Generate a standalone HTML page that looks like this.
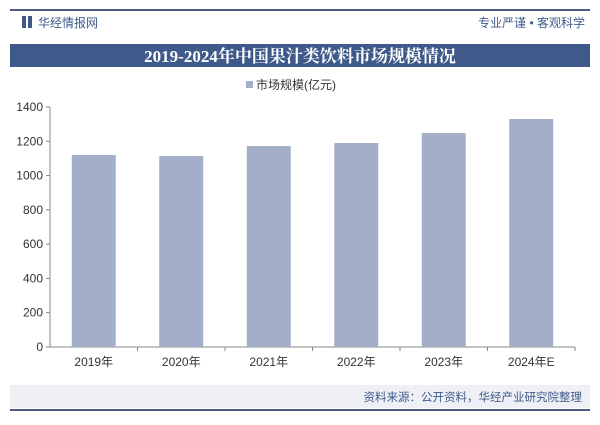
<!DOCTYPE html>
<html><head><meta charset="utf-8"><style>
body{margin:0;width:600px;height:420px;background:#fff;overflow:hidden;font-family:"Liberation Sans","Noto Sans CJK SC",sans-serif;}
</style></head><body>
<svg width="600" height="420" xmlns="http://www.w3.org/2000/svg">
<rect x="10" y="9" width="580" height="2" fill="#4a5b84"/>
<rect x="22" y="16" width="4" height="12" fill="#3f5a8a"/>
<rect x="28" y="16" width="4" height="12" fill="#3f5a8a"/>
<text x="38" y="27" font-size="12" fill="#3f5a8a">华经情报网</text>
<text x="585" y="27" font-size="12" fill="#3f5a8a" text-anchor="end">专业严谨 • 客观科学</text>
<rect x="10" y="44" width="580" height="23" fill="#3f5a8a"/>
<text x="300" y="62" font-size="17" fill="#fff" font-weight="bold" text-anchor="middle" font-family="Liberation Serif,Noto Serif CJK SC,serif">2019-2024年中国果汁类饮料市场规模情况</text>
<rect x="246" y="81" width="7" height="7" fill="#a3afc8"/>
<text x="256" y="89" font-size="12" fill="#333">市场规模(亿元)</text>
<g id="plot"></g>
<rect x="10" y="385" width="580" height="23" fill="#eef0f5"/>
<text x="582" y="401" font-size="11.5" fill="#3f5a8a" text-anchor="end">资料来源：公开资料，华经产业研究院整理</text>
<rect x="10" y="409" width="580" height="2" fill="#4a5b84"/>
</svg>
<script>
const categories=["2019年","2020年","2021年","2022年","2023年","2024年E"];
const values=[1120,1114,1172,1190,1248,1330];
const ticks=[0,200,400,600,800,1000,1200,1400];
const NS="http://www.w3.org/2000/svg";
const g=document.getElementById('plot');
const x0=50,x1=575,y0=347,yTop=107,max=1400;
const y=v=>y0-(v/max)*(y0-yTop);
const bw=(x1-x0)/categories.length;
function mk(t,a){const e=document.createElementNS(NS,t);for(const k in a)e.setAttribute(k,a[k]);g.appendChild(e);return e;}
let ax=mk('line',{x1:x0,y1:yTop,x2:x0,y2:y0,stroke:'#888'});


let xa=mk('line',{x1:x0,y1:y0,x2:x1,y2:y0,stroke:'#888'});


ticks.forEach(t=>{
 mk('line',{x1:x0-4,y1:y(t),x2:x0,y2:y(t),stroke:'#888'});
 const tx=mk('text',{x:x0-7,y:y(t)+4,'font-size':12,fill:'#333','text-anchor':'end'});
 tx.textContent=t;
 
 
});
categories.forEach((c,i)=>{
 const cx=x0+bw*(i+0.5);
 mk('line',{x1:x0+bw*(i+1),y1:y0,x2:x0+bw*(i+1),y2:y0+4,stroke:'#888'});
 const r=mk('rect',{x:cx-22,y:y(values[i]),width:44,height:y0-y(values[i]),fill:'#a3afc8'});
 
 
 const tx=mk('text',{x:cx,y:y0+19,'font-size':12,fill:'#333','text-anchor':'middle'});
 tx.textContent=c;
 
 
});
</script>
</body></html>
